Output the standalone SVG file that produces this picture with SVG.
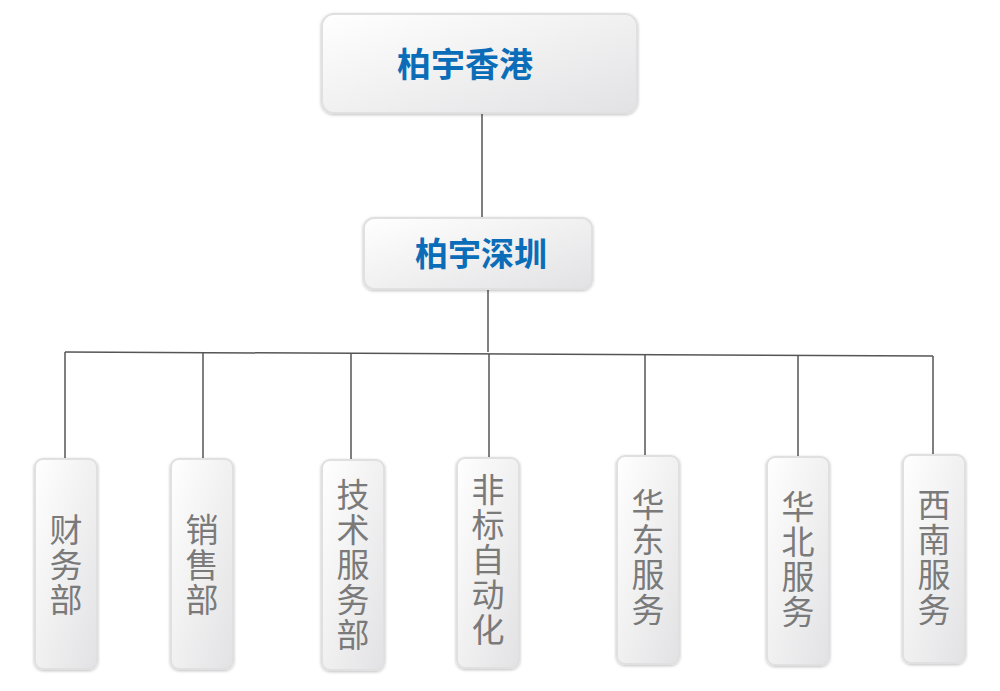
<svg xmlns="http://www.w3.org/2000/svg" width="1000" height="691" viewBox="0 0 1000 691">
<defs>
<linearGradient id="g" x1="0" y1="0" x2="1" y2="1">
<stop offset="0" stop-color="#ffffff"/><stop offset="1" stop-color="#e2e2e4"/>
</linearGradient>
<filter id="s" x="-20%" y="-20%" width="140%" height="140%"><feDropShadow dx="0" dy="1" stdDeviation="1.5" flood-color="#000" flood-opacity="0.25"/></filter>
</defs>
<style>
.b{fill:url(#g);stroke:#e0e0e0;stroke-width:2;filter:url(#s)}
.t{font-family:"Noto Sans CJK SC",sans-serif;font-weight:bold;fill:#0b6db8;text-anchor:middle}
.v{font-family:"Noto Sans CJK SC",sans-serif;fill:#7a7a7a;font-size:33px;writing-mode:vertical-rl;text-orientation:upright;letter-spacing:2px}
.c{stroke:#555;stroke-width:1.5;fill:none}
</style>
<rect width="1000" height="691" fill="#fff"/>
<g id="connectors">
<line class="c" x1="482" y1="113" x2="482" y2="218" stroke-width="1"/>
<line class="c" x1="488" y1="289" x2="488" y2="352"/>
<line class="c" x1="65" y1="352" x2="933" y2="356"/>
<line class="c" x1="65" y1="352" x2="65" y2="459"/>
<line class="c" x1="203" y1="353" x2="203" y2="459"/>
<line class="c" x1="351" y1="353" x2="351" y2="460"/>
<line class="c" x1="489" y1="354" x2="489" y2="458"/>
<line class="c" x1="645" y1="354" x2="645" y2="456" stroke-width="1"/>
<line class="c" x1="798" y1="355" x2="798" y2="457"/>
<line class="c" x1="933" y1="356" x2="933" y2="455"/>
</g>
<g id="n-hk"><rect class="b" x="322" y="14" width="315" height="99" rx="12"/><text class="t" x="465" y="77" font-size="34">柏宇香港</text></g>
<g id="n-sz"><rect class="b" x="364" y="218" width="228" height="71" rx="10"/><text class="t" x="481" y="266" font-size="33">柏宇深圳</text></g>
<g id="n1"><rect class="b" x="35" y="459" width="62" height="210" rx="8"/><text class="v" x="66" y="513">财务部</text></g>
<g id="n2"><rect class="b" x="171" y="459" width="62" height="210" rx="8"/><text class="v" x="202" y="513">销售部</text></g>
<g id="n3"><rect class="b" x="322" y="460" width="62" height="210" rx="8"/><text class="v" x="353" y="478">技术服务部</text></g>
<g id="n4"><rect class="b" x="457" y="458" width="62" height="210" rx="8"/><text class="v" x="488" y="473">非标自动化</text></g>
<g id="n5"><rect class="b" x="617" y="456" width="62" height="208" rx="8"/><text class="v" x="648" y="488">华东服务</text></g>
<g id="n6"><rect class="b" x="767" y="457" width="62" height="208" rx="8"/><text class="v" x="798" y="490">华北服务</text></g>
<g id="n7"><rect class="b" x="903" y="455" width="62" height="208" rx="8"/><text class="v" x="934" y="488">西南服务</text></g>
</svg>
